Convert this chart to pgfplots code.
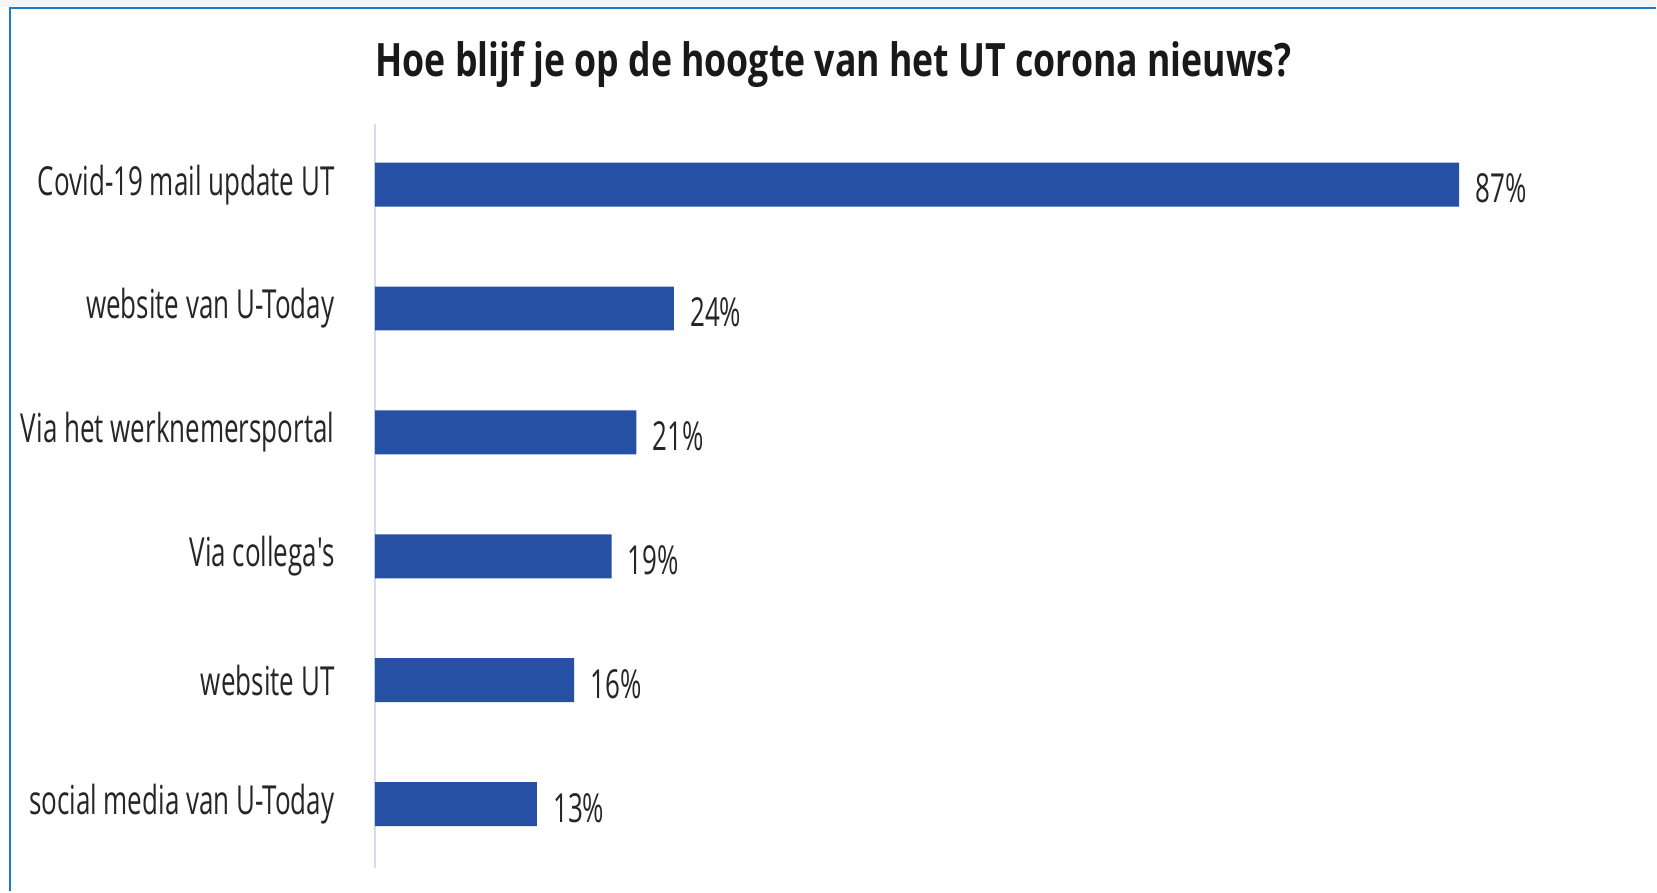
\documentclass[border=0pt]{standalone}
\usepackage{fontspec}
\setmainfont[FakeStretch=0.65,Ligatures=TeXOff]{Open Sans}
\newfontfamily\titlefont[FakeStretch=0.775]{Open Sans}
\usepackage{pgfplots}
\pgfplotsset{compat=1.18}
\definecolor{barblue}{RGB}{37,80,164}
\definecolor{frameblue}{RGB}{26,122,212}
\definecolor{axisblue}{RGB}{210,222,240}
\definecolor{txt}{RGB}{38,38,38}
\begin{document}
\begin{tikzpicture}
\fill[white] (0,0) rectangle (828.5pt,446pt);
\fill[black!4] (0,442.5pt) rectangle (828.5pt,446pt);
\draw[frameblue, line width=1pt] (5pt,0) -- (5pt,442pt) -- (828.5pt,442pt);
\node[font=\titlefont\bfseries\fontsize{23}{27}\selectfont, text=black!90] at (417pt,414pt) {Hoe blijf je op de hoogte van het UT corona nieuws?};
\begin{axis}[
  at={(187.5pt,11.5pt)}, anchor=south west,
  scale only axis, width=623.5pt, height=372.5pt,
  xbar, bar width=22pt,
  xmin=0, xmax=100, ymin=-0.52, ymax=5.49,
  hide x axis,
  axis y line*=left,
  y axis line style={draw=axisblue, line width=1pt},
  ytick={0,1,2,3,4,5},
  yticklabels={social media van U-Today, website UT, Via collega's, Via het werknemersportal, website van U-Today, Covid-19 mail update UT},
  major tick length=0pt,
  yticklabel style={font=\fontsize{20}{24}\selectfont, text=txt, anchor=east, inner sep=0pt, xshift=-20pt},
  /pgf/number format/assume math mode=true,
  nodes near coords={\pgfmathprintnumber{\pgfplotspointmeta}\%},
  nodes near coords style={font=\fontsize{20}{24}\selectfont, text=txt, anchor=west, inner sep=0pt, xshift=8pt, yshift=-2pt},
  clip=false,
]
\addplot[fill=barblue, draw=none] coordinates {(13,0) (16,1) (19,2) (21,3) (24,4) (87,5)};
\end{axis}
\end{tikzpicture}
\end{document}
